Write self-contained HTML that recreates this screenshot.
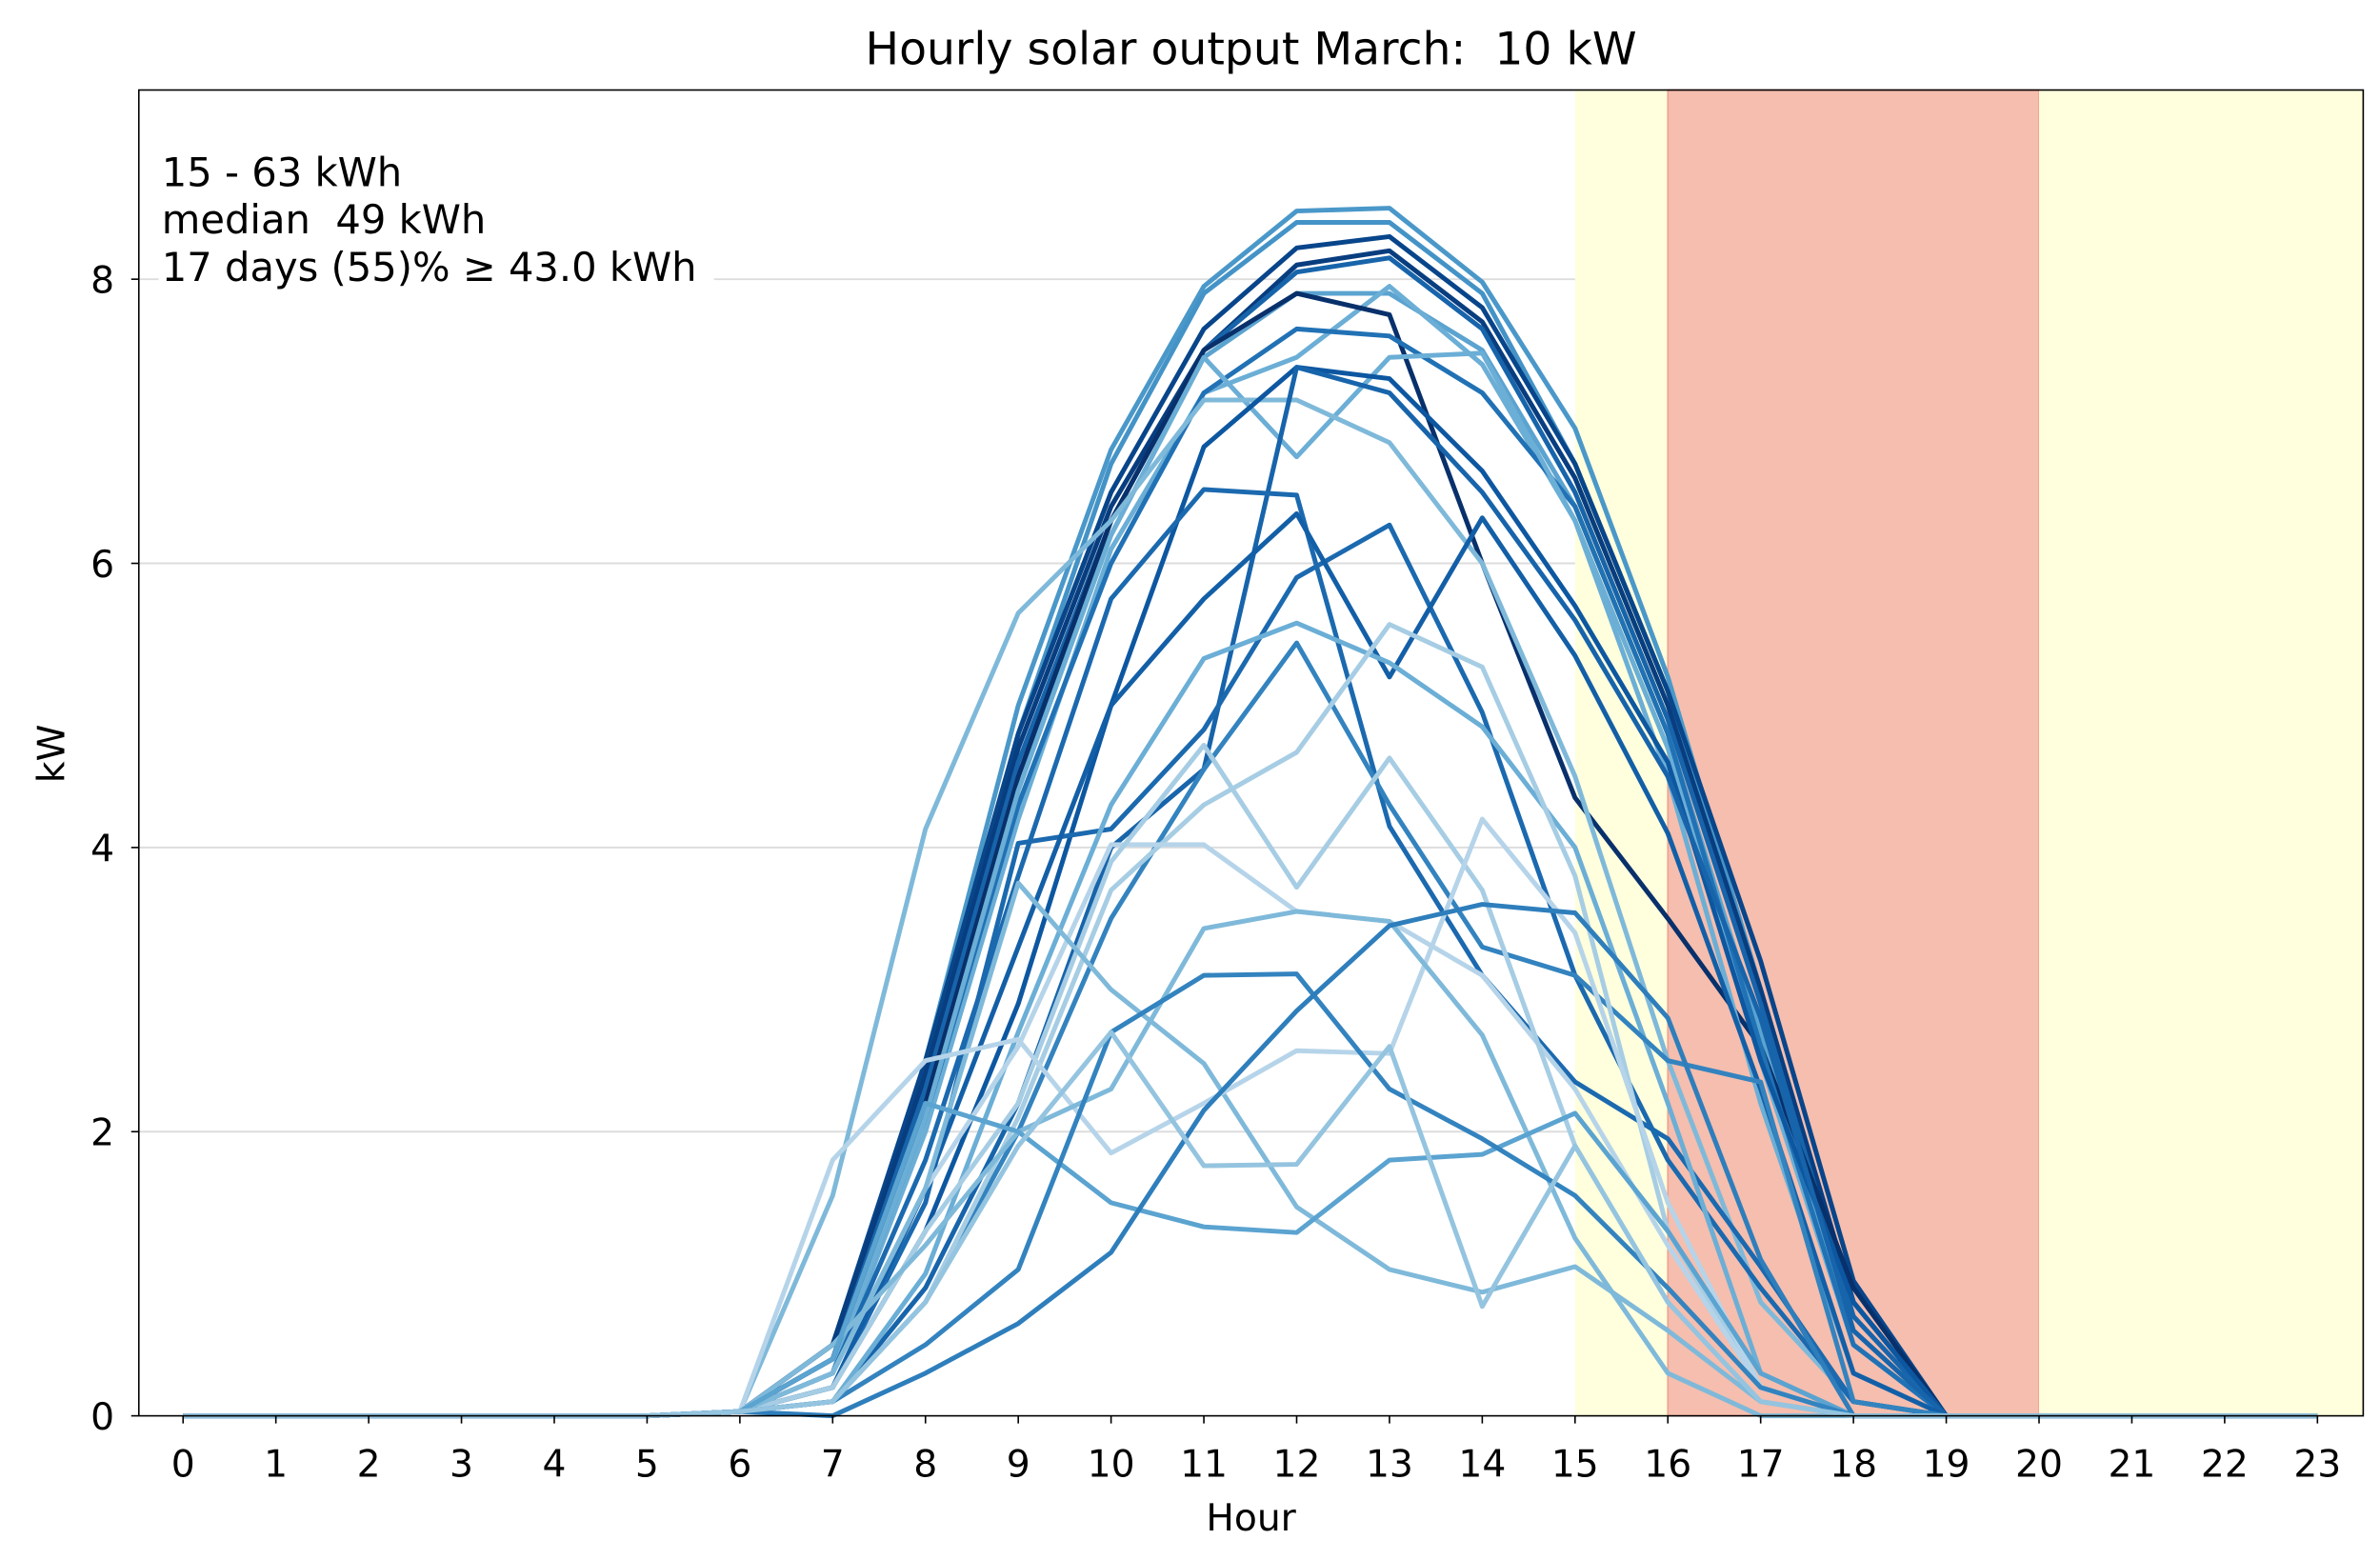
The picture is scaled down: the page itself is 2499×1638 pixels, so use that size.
<!DOCTYPE html>
<html><head><meta charset="utf-8"><style>html,body{margin:0;padding:0;background:#fff}svg{display:block}text{font-family:"DejaVu Sans","Liberation Sans",sans-serif;fill:#000}</style></head>
<body>
<svg id="chart" width="2499" height="1638" viewBox="0 0 1560 1022.5" preserveAspectRatio="none" xmlns="http://www.w3.org/2000/svg">
<rect x="0" y="0" width="1560" height="1022.5" fill="#fff"/>
<g id="spans"></g><g id="grid"></g><g id="lines"></g><g id="axes"></g>
</svg>
<script>
const hours = [0,1,2,3,4,5,6,7,8,9,10,11,12,13,14,15,16,17,18,19,20,21,22,23];
const yTicks = [0,2,4,6,8];
// series values for hours 7..18 (other hours 0)
const s01=[0.5,2.5,5.0,6.8,7.95,8.48,8.5,7.98,6.95,5.2,3.0,0.8];
const s02=[0.4,2.4,4.8,6.7,7.9,8.4,8.4,7.9,6.7,5.1,3.0,0.8];
const s03=[0.5,2.5,4.8,6.5,7.65,8.22,8.3,7.8,6.7,5.1,3.2,0.95];
const s04=[0.5,2.4,4.7,6.4,7.5,8.1,8.2,7.7,6.6,5.0,3.0,0.8];
const s05=[0.4,2.3,4.6,6.3,7.5,8.05,8.15,7.65,6.5,4.9,2.9,0.7];
const s06=[0.3,2.2,4.5,6.2,7.45,7.9,7.9,7.5,6.4,4.8,2.7,0.6];
const s07=[0.3,2.0,4.2,6.1,7.2,7.45,7.95,7.4,6.3,4.7,2.5,0.5];
const s08=[0.4,2.2,4.5,6.3,7.5,7.9,7.75,6.0,4.35,3.5,2.6,0.9];
const s09=[0.3,2.1,4.3,6.0,7.2,7.65,7.6,7.2,6.4,4.8,2.6,0.5];
const s10=[0.3,2.1,4.4,6.2,7.45,6.75,7.45,7.48,6.3,4.5,2.2,0.3];
const s11=[1.55,4.13,5.65,6.3,7.15,7.15,6.85,6.0,4.5,2.5,0.8,0.1];
const s12=[0.2,1.3,2.9,5.0,6.82,7.38,7.3,6.65,5.7,4.6,2.5,0.8];
const s13=[0.1,0.9,2.2,4.0,4.55,7.38,7.2,6.5,5.6,4.5,2.8,0.6];
const s14=[0.2,1.5,4.03,4.13,4.83,5.9,6.27,4.95,3.1,1.8,0.9,0.1];
const s15=[0.3,1.8,3.8,5.75,6.52,6.48,4.15,3.1,2.35,1.95,1.05,0.1];
const s16=[0.2,1.6,3.3,5.0,5.75,6.35,5.2,6.32,5.35,4.1,2.3,0.3];
const s17=[0.1,1.0,2.7,4.3,5.33,5.58,5.3,4.85,4.0,2.2,0.3,0];
const s18=[0.1,0.8,2.0,3.5,4.55,5.44,4.3,3.3,3.1,2.5,2.35,0.1];
const s19=[0.1,0.8,2.1,3.7,4.3,4.67,5.57,5.27,3.8,1.3,0.2,0];
const s20=[0.3,1.6,2.6,4.02,4.02,3.55,3.48,3.1,2.3,1.2,0.2,0];
const s21=[0.2,1.3,2.2,3.9,4.72,3.72,4.63,3.7,1.9,0.8,0.1,0];
const s22=[0.3,1.6,3.75,3.0,2.48,1.47,1.03,0.87,1.05,0.6,0.1,0];
const s23=[1.8,2.5,2.65,1.85,2.2,2.57,2.55,4.2,3.4,1.5,0.2,0];
const s24=[0.5,1.2,2.0,2.3,3.43,3.55,3.48,2.68,1.25,0.3,0,0];
const s25=[0.4,2.2,2.0,1.5,1.33,1.29,1.8,1.84,2.13,1.3,0.3,0];
const s26=[0.1,0.5,1.03,2.7,3.1,3.11,2.3,1.95,1.55,0.9,0.2,0];
const s27=[0,0.3,0.65,1.15,2.15,2.85,3.45,3.6,3.54,2.8,1.1,0];
const s28=[0.1,0.8,1.9,2.7,1.76,1.77,2.6,0.77,1.9,0.8,0.1,0];
const seriesList=[s01,s02,s03,s04,s05,s06,s07,s08,s09,s10,s11,s12,s13,s14,s15,s16,s17,s18,s19,s20,s21,s22,s23,s24,s25,s26,s27,s28];
const shades=[0.6,0.62,0.92,0.95,0.8,0.55,0.5,1.0,0.75,0.5,0.45,0.85,0.8,0.78,0.78,0.82,0.5,0.68,0.35,0.3,0.35,0.45,0.3,0.45,0.55,0.68,0.7,0.4];
const X=h=>120+h*(1519-120)/23, Y=v=>928-v*93.125;
const NS="http://www.w3.org/2000/svg";
function mk(t,a,p){const e=document.createElementNS(NS,t);for(const k in a)e.setAttribute(k,a[k]);p.appendChild(e);return e;}
const stops=[[0.25,[198,219,239]],[0.375,[158,202,225]],[0.5,[107,174,214]],[0.625,[66,146,198]],[0.75,[33,113,181]],[0.875,[8,81,156]],[1,[8,48,107]]];
function blue(t){for(let i=0;i<stops.length-1;i++){const a=stops[i],b=stops[i+1];if(t<=b[0]){const f=Math.max(0,(t-a[0])/(b[0]-a[0]));return 'rgb('+a[1].map((c,j)=>Math.round(c+(b[1][j]-c)*f)).join(',')+')';}}return 'rgb(8,48,107)';}
const pTop=59,pBot=928,pLeft=91,pRight=1549;
const sp=document.getElementById('spans');
let r=mk('rect',{x:X(15),y:pTop,width:X(16)-X(15),height:pBot-pTop,fill:'#ffffdd'},sp);


r=mk('rect',{x:X(16),y:pTop,width:X(20)-X(16),height:pBot-pTop,fill:'#f5beae',stroke:'#f0a090','stroke-width':1},sp);


r=mk('rect',{x:X(20),y:pTop,width:pRight-X(20),height:pBot-pTop,fill:'#ffffdd'},sp);


const gr=document.getElementById('grid');
yTicks.slice(1).forEach(v=>{const l=mk('line',{x1:pLeft,x2:X(15),y1:Y(v),y2:Y(v),stroke:'#dddddd','stroke-width':1.2},gr);

});
const lg=document.getElementById('lines');
seriesList.forEach((s,i)=>{const vals=hours.map(h=>(h>=7&&h<=18)?s[h-7]:(h===6?0.03:0));
const p=mk('polyline',{points:vals.map((v,h)=>X(h)+','+Y(v)).join(' '),fill:'none',stroke:blue(shades[i]),'stroke-width':3.1,'stroke-linejoin':'round'},lg);

});
const ax=document.getElementById('axes');
let f=mk('rect',{x:pLeft,y:pTop,width:pRight-pLeft,height:pBot-pTop,fill:'none',stroke:'#000','stroke-width':1},ax);


hours.forEach(h=>{mk('line',{x1:X(h),x2:X(h),y1:pBot,y2:pBot+5,stroke:'#000'},ax);
const t=mk('text',{x:X(h),y:968,'font-size':24.5,'text-anchor':'middle'},ax);t.textContent=h;

});
yTicks.forEach(v=>{mk('line',{x1:pLeft-5,x2:pLeft,y1:Y(v),y2:Y(v),stroke:'#000'},ax);
const t=mk('text',{x:75,y:Y(v)+9,'font-size':24.5,'text-anchor':'end'},ax);t.textContent=v;

});
mk('rect',{x:104,y:160,width:364,height:30,fill:'#fff'},ax);
[['15 - 63 kWh',122],['median  49 kWh',153],['17 days (55)% \u2265 43.0 kWh',184]].forEach((a,i)=>{
const t=mk('text',{x:106,y:a[1],'font-size':26},ax);t.textContent=a[0];t.style.whiteSpace='pre';

});
let t=mk('text',{x:820,y:42,'font-size':29.5,'text-anchor':'middle'},ax);t.textContent='Hourly solar output March:  10 kW';t.style.whiteSpace='pre';


t=mk('text',{x:820,y:1003,'font-size':24.5,'text-anchor':'middle'},ax);t.textContent='Hour';


t=mk('text',{x:42,y:494,'font-size':24.5,'text-anchor':'middle',transform:'rotate(-90 42 494)'},ax);t.textContent='kW';


</script>
</body></html>
